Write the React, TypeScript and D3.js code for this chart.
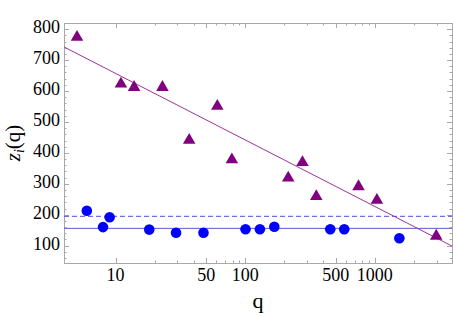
import * as d3 from "d3"
import React, { useEffect, useRef } from "react"

// circles (blue): q and z_i(q)
const circleQ = [6.0, 8.0, 9.0, 18.2, 29.3, 47.7, 100.7, 130, 168, 454, 582, 1550]
const circleZ = [213, 160, 192, 152, 142, 142, 153, 153, 161, 153, 153, 124]

// triangles (purple)
const triQ = [5.04, 11.0, 13.9, 23.0, 37, 61, 79, 215, 277, 354, 750, 1040, 2985]
const triZ = [780, 629, 618, 618, 447, 557, 384, 325, 375, 265, 297, 253, 137]

// fitted line z = a + b*log10(q) and the two horizontal levels
const fitA = 872
const fitB = -215
const levelSolid = 156
const levelDashed = 195

const xMajor = [10, 50, 100, 500, 1000]
const xMinor = [20, 30, 40, 60, 70, 80, 90, 200, 300, 400, 600, 700, 800, 900, 2000, 3000]
const yMajor = [100, 200, 300, 400, 500, 600, 700, 800]
const yMinor = d3.range(60, 821, 20).filter(v => v % 100 !== 0)

const W = 453
const H = 316

const App = () => {
    const ref = useRef<SVGSVGElement>(null)

    useEffect(() => {
        const svg = d3.select(ref.current)
        svg.selectAll("*").remove()

        const left = 64, right = 452, top = 23, bottom = 263
        const x = d3.scaleLog().domain([4.0, 3950]).range([left, right])
        const y = d3.scaleLinear().domain([44, 820]).range([bottom, top])
        const font = "'Liberation Serif', 'Times New Roman', serif"
        const frameColor = "#a8a8a8"

        const g = svg.append("g")

        // clip for data
        svg.append("defs").append("clipPath").attr("id", "clip")
            .append("rect").attr("x", left).attr("y", top)
            .attr("width", right - left).attr("height", bottom - top)

        // frame
        g.append("rect")
            .attr("x", left + 0.5).attr("y", top + 0.5)
            .attr("width", right - left).attr("height", bottom - top)
            .attr("fill", "none").attr("stroke", frameColor)

        // x ticks (bottom and top)
        const xt = (vals: number[], len: number) => {
            vals.forEach(v => {
                const px = Math.round(x(v)) + 0.5
                g.append("line").attr("x1", px).attr("x2", px)
                    .attr("y1", bottom).attr("y2", bottom - len)
                    .attr("stroke", frameColor)
                g.append("line").attr("x1", px).attr("x2", px)
                    .attr("y1", top).attr("y2", top + len)
                    .attr("stroke", frameColor)
            })
        }
        xt(xMajor, 5)
        xt(xMinor, 2.5)

        const yt = (vals: number[], len: number) => {
            vals.forEach(v => {
                const py = Math.round(y(v)) + 0.5
                g.append("line").attr("x1", left).attr("x2", left + len)
                    .attr("y1", py).attr("y2", py)
                    .attr("stroke", frameColor)
                g.append("line").attr("x1", right).attr("x2", right - len)
                    .attr("y1", py).attr("y2", py)
                    .attr("stroke", frameColor)
            })
        }
        yt(yMajor, 5)
        yt(yMinor, 2.5)

        // tick labels
        g.selectAll(".xl").data(xMajor).join("text")
            .attr("x", d => x(d)).attr("y", 281)
            .attr("text-anchor", "middle")
            .attr("font-family", font).attr("font-size", 18)
            .text(d => d)
        g.selectAll(".yl").data(yMajor).join("text")
            .attr("x", 60).attr("y", d => y(d) + 4)
            .attr("text-anchor", "end")
            .attr("font-family", font).attr("font-size", 18)
            .text(d => d)

        // axis titles
        g.append("text").attr("x", (left + right) / 2).attr("y", 308)
            .attr("text-anchor", "middle")
            .attr("font-family", font).attr("font-size", 22)
            .text("q")
        const yl = g.append("text")
            .attr("transform", `translate(20, ${(top + bottom) / 2}) rotate(-90)`)
            .attr("text-anchor", "middle")
            .attr("font-family", font).attr("font-size", 21)
        yl.append("tspan").attr("font-style", "italic").text("z")
        yl.append("tspan").attr("font-style", "italic").attr("font-size", 14).attr("dy", 4).text("i")
        yl.append("tspan").attr("dy", -4).text("(q)")

        const data = g.append("g").attr("clip-path", "url(#clip)")

        // horizontal lines
        data.append("line").attr("x1", left).attr("x2", right)
            .attr("y1", y(levelSolid)).attr("y2", y(levelSolid))
            .attr("stroke", "#5a5ad8").attr("stroke-width", 1)
        data.append("line").attr("x1", left).attr("x2", right)
            .attr("y1", y(levelDashed)).attr("y2", y(levelDashed))
            .attr("stroke", "#4a4ae0").attr("stroke-width", 1)
            .attr("stroke-dasharray", "5,3")

        // fit line
        const qd = x.domain()
        const line = d3.line<number>().x(q => x(q)).y(q => y(fitA + fitB * Math.log10(q)))
        data.append("path").attr("d", line([qd[0], qd[1]]))
            .attr("fill", "none").attr("stroke", "#9a359a").attr("stroke-width", 1)

        // circles
        data.selectAll(".c").data(circleQ.map((q, i) => [q, circleZ[i]])).join("circle")
            .attr("cx", d => x(d[0])).attr("cy", d => y(d[1]))
            .attr("r", 5.3).attr("fill", "#0000ff")

        // triangles
        const tri = d3.symbol().type(d3.symbolTriangle).size(68)()
        data.selectAll(".t").data(triQ.map((q, i) => [q, triZ[i]])).join("path")
            .attr("d", tri)
            .attr("transform", d => `translate(${x(d[0])}, ${y(d[1]) + 1.8})`)
            .attr("fill", "#800080")
    }, [])

    return (
        <svg ref={ref} width={W} height={H}
            style={{ position: "absolute", left: 0, top: 0, background: "#fff" }} />
    )
}

export default App
